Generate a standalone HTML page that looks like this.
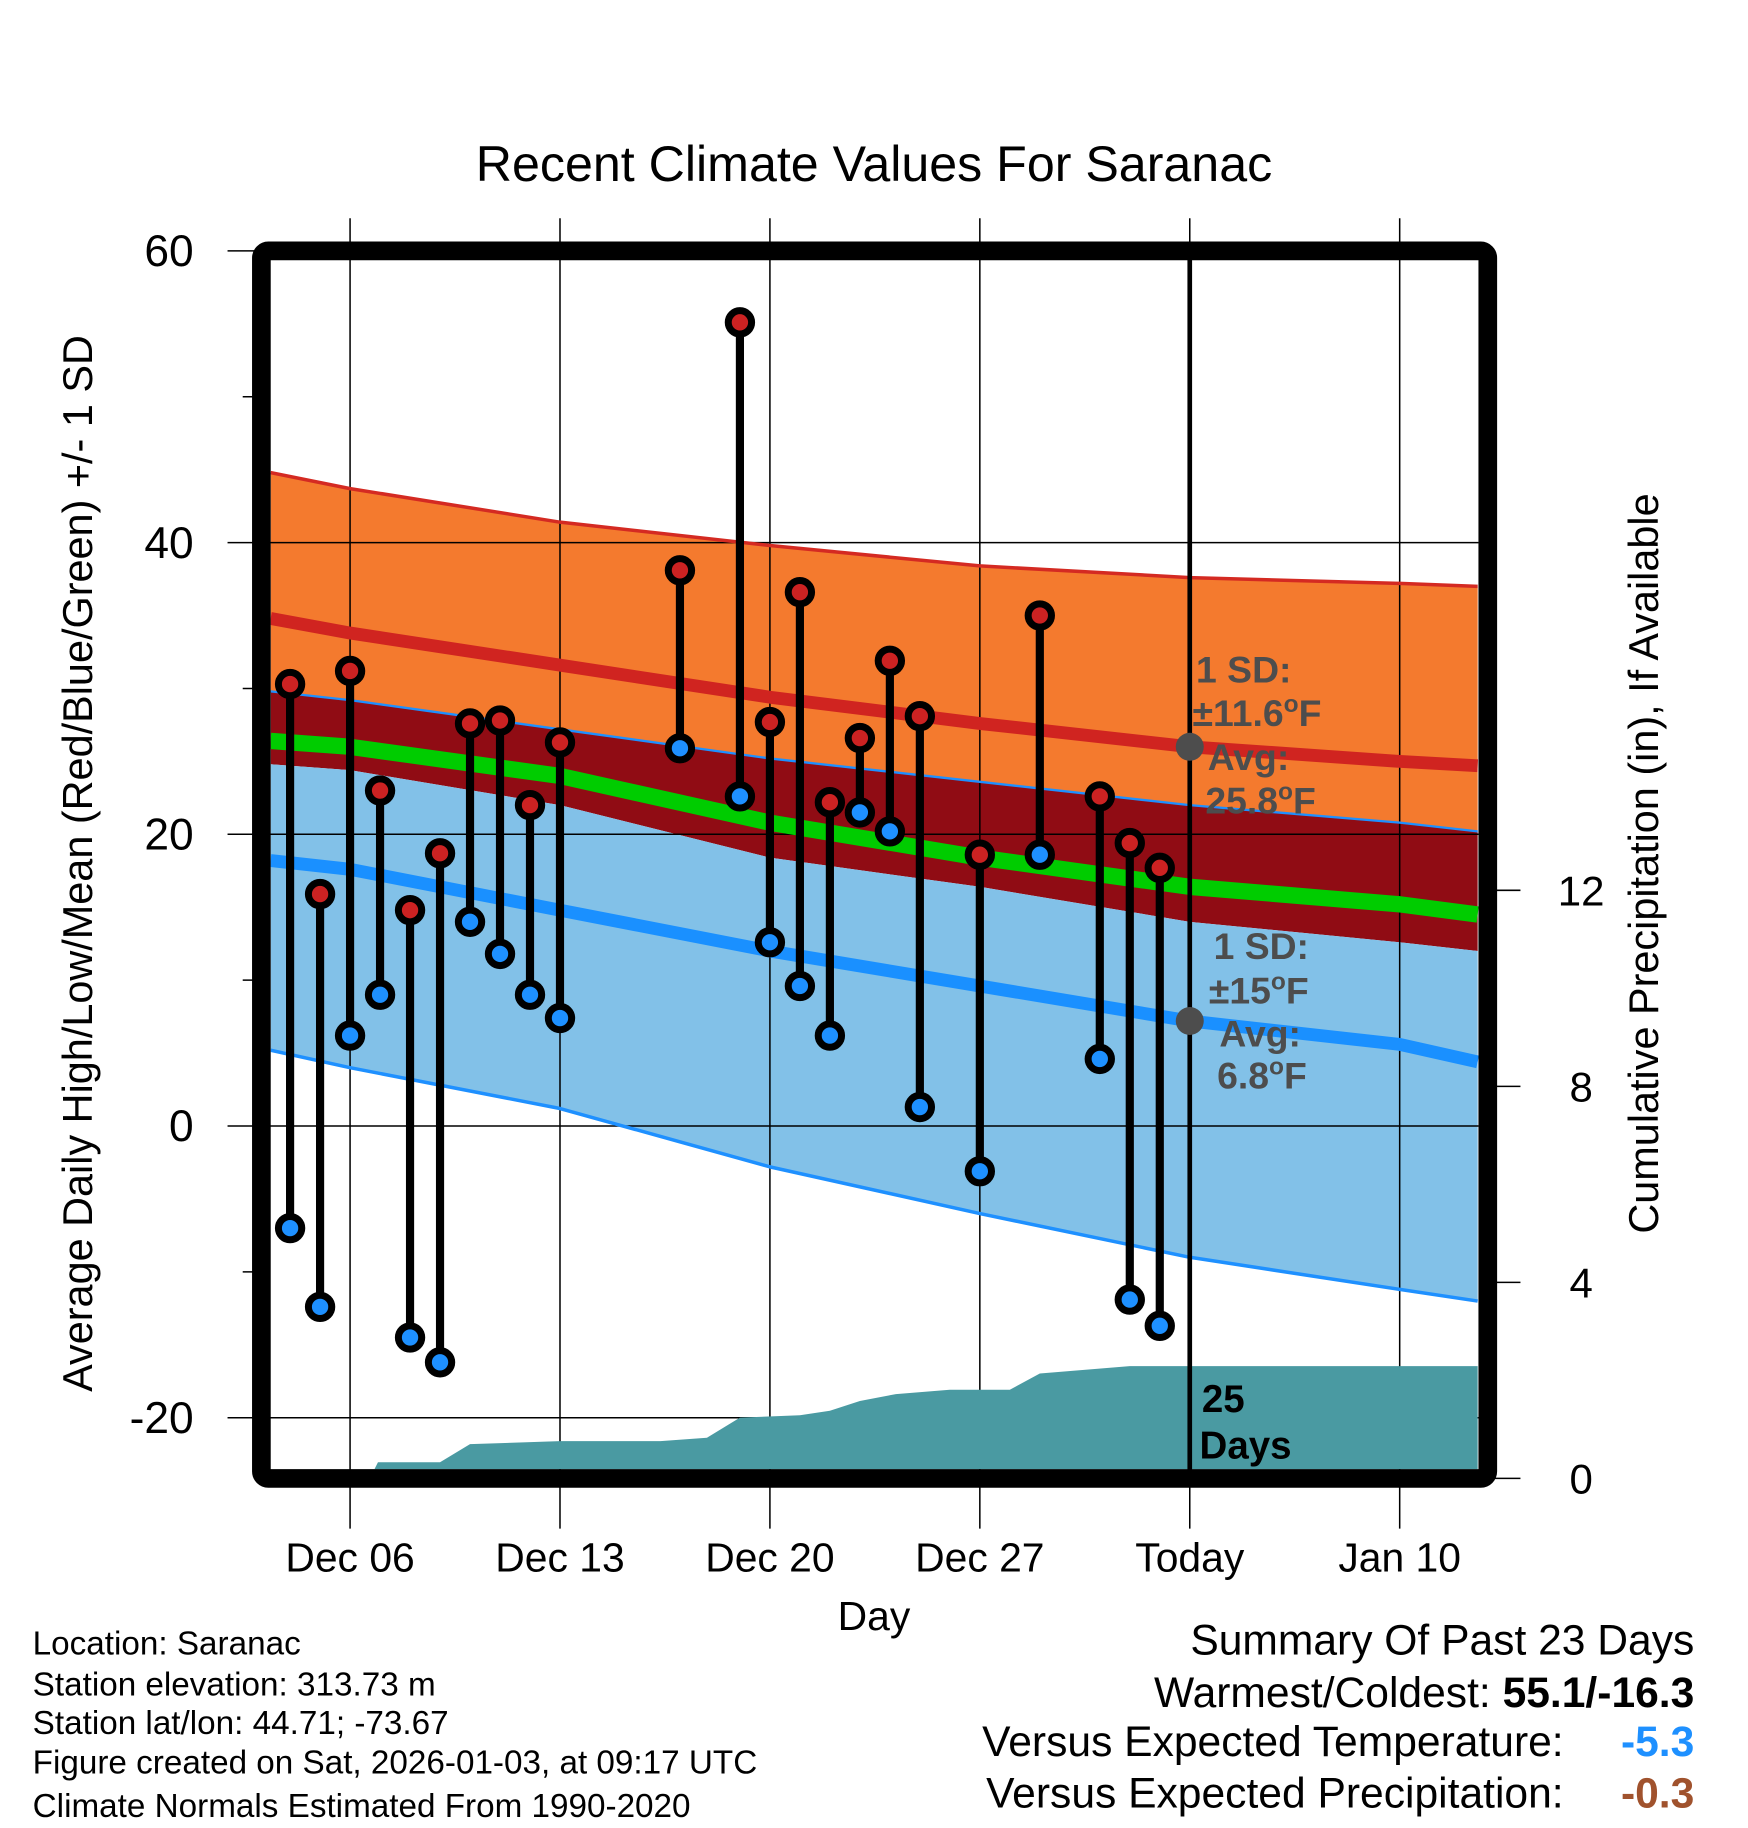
<!DOCTYPE html>
<html><head><meta charset="utf-8"><style>
html,body{margin:0;padding:0;background:#fff;}
svg{display:block;font-family:"Liberation Sans",Arial,sans-serif;}
</style></head><body>
<svg id="chart" width="1748" height="1828" viewBox="0 0 1498 1566.6" preserveAspectRatio="none" xmlns="http://www.w3.org/2000/svg">
<defs><clipPath id="plotclip"><rect x="232" y="223" width="1035" height="1036"/></clipPath></defs>
<g id="bands" clip-path="url(#plotclip)"></g>
<g id="grid"></g>
<g id="precip" clip-path="url(#plotclip)"></g>
<g id="lines" clip-path="url(#plotclip)"></g>
<g id="marks"></g>
<g id="annot"></g>
<rect x="224" y="215" width="1051" height="1052" rx="6" fill="none" stroke="#000" stroke-width="16"/>
<g id="axes"></g>
<text x="749" y="155" font-size="43" text-anchor="middle">Recent Climate Values For Saranac</text>
<text transform="translate(79,740) rotate(-90)" font-size="35.5" text-anchor="middle">Average Daily High/Low/Mean (Red/Blue/Green) +/- 1 SD</text>
<text transform="translate(1421,740) rotate(-90)" font-size="35.5" text-anchor="middle">Cumulative Precipitation (in), If Available</text>
<text x="749" y="1397" font-size="35" text-anchor="middle">Day</text>
<g font-size="28.5">
<text x="28" y="1418">Location: Saranac</text>
<text x="28" y="1453">Station elevation: 313.73 m</text>
<text x="28" y="1486">Station lat/lon: 44.71; -73.67</text>
<text x="28" y="1520">Figure created on Sat, 2026-01-03, at 09:17 UTC</text>
<text x="28" y="1557">Climate Normals Estimated From 1990-2020</text>
</g>
<g font-size="36.5" text-anchor="end">
<text x="1452" y="1418">Summary Of Past 23 Days</text>
<text x="1452" y="1463">Warmest/Coldest: <tspan font-weight="bold">55.1/-16.3</tspan></text>
<text x="1340" y="1505">Versus Expected Temperature:</text>
<text x="1452" y="1505" fill="#1e90ff" font-weight="bold">-5.3</text>
<text x="1340" y="1549">Versus Expected Precipitation:</text>
<text x="1452" y="1549" fill="#a0522d" font-weight="bold">-0.3</text>
</g>
</svg>
<script>
// ---- data ----
const normDays = [-2.65, 0, 7, 14, 21, 28, 35, 37.6];
const highPlusSD = [44.8, 43.7, 41.4, 39.8, 38.4, 37.6, 37.2, 37.0];
const highAvg = [34.8, 33.8, 31.6, 29.4, 27.6, 26.0, 25.0, 24.7];
const lowPlusSD = [29.8, 29.2, 27.2, 25.2, 23.6, 22.0, 20.8, 20.2];
const highMinusSD = [24.8, 24.4, 22.0, 18.4, 16.4, 14.0, 12.6, 12.0];
const meanAvg = [26.4, 26.0, 24.0, 20.8, 18.4, 16.4, 15.2, 14.5];
const lowAvg = [18.2, 17.6, 14.8, 12.0, 9.6, 7.2, 5.6, 4.4];
const lowMinusSD = [5.2, 4.0, 1.2, -2.8, -6.0, -9.0, -11.2, -12.0];
const obsDays = [-2, -1, 0, 1, 2, 3, 4, 5, 6, 7, 11, 13, 14, 15, 16, 17, 18, 19, 21, 23, 25, 26, 27];
const obsHigh = [30.3, 15.9, 31.2, 23.0, 14.8, 18.7, 27.6, 27.8, 22.0, 26.3, 38.1, 55.1, 27.7, 36.6, 22.2, 26.6, 31.9, 28.1, 18.6, 35.0, 22.6, 19.4, 17.7];
const obsLow = [-7.0, -12.4, 6.2, 9.0, -14.5, -16.2, 14.0, 11.8, 9.0, 7.4, 25.9, 22.6, 12.6, 9.6, 6.2, 21.5, 20.2, 1.3, -3.1, 18.6, 4.6, -11.9, -13.7];
const precipDays = [-2.65, 0.66, 0.93, 3.0, 4.0, 7.0, 10.35, 11.9, 13.0, 15.0, 16.0, 17.0, 18.2, 20.0, 22.0, 23.0, 26.0, 37.6];
const precipVals = [0, 0, 0.33, 0.33, 0.70, 0.76, 0.76, 0.83, 1.24, 1.29, 1.38, 1.58, 1.72, 1.81, 1.81, 2.14, 2.29, 2.29];
const xTickDays = [0, 7, 14, 21, 28, 35];
const xTickLabels = ["Dec 06", "Dec 13", "Dec 20", "Dec 27", "Today", "Jan 10"];
const yTicks = [60, 40, 20, 0, -20];
const yMinor = [50, 30, 10, -10];
const y2Ticks = [0, 4, 8, 12];
const todayDay = 28;

// ---- axis functions ----
const X = d => 300 + d * 25.7;
const Y = v => 965 - v * 12.5;
const Y2 = p => 1267 - p * 42;
const NS = "http://www.w3.org/2000/svg";
function mk(tag, parent, attrs) { const e = document.createElementNS(NS, tag); for (const k in attrs) e.setAttribute(k, attrs[k]); parent.appendChild(e); return e; }
const g = id => document.getElementById(id);

function linePts(arr) { return normDays.map((d, i) => X(d) + "," + Y(arr[i])).join(" "); }
function bandPts(top, bot) {
  const a = normDays.map((d, i) => X(d) + "," + Y(top[i]));
  const b = normDays.map((d, i) => X(d) + "," + Y(bot[i])).reverse();
  return a.concat(b).join(" ");
}
const bands = g("bands");
let e;
e = mk("polygon", bands, { points: bandPts(highPlusSD, lowPlusSD), fill: "#f47a2e" });


e = mk("polygon", bands, { points: bandPts(lowPlusSD, highMinusSD), fill: "#900c14" });


e = mk("polygon", bands, { points: bandPts(highMinusSD, lowMinusSD), fill: "#82c1e8" });



// grid
const grid = g("grid");
xTickDays.forEach((d, i) => {
  e = mk("line", grid, { x1: X(d), x2: X(d), y1: 187, y2: 1310, stroke: "#000", "stroke-width": 1.3 });
  
  
});
yTicks.forEach(v => {
  e = mk("line", grid, { x1: 195, x2: 1267, y1: Y(v), y2: Y(v), stroke: "#000", "stroke-width": 1.3 });
  
  
});

// precip
const pp = precipDays.map((d, i) => X(d) + "," + Y2(precipVals[i]));
pp.push(X(precipDays[precipDays.length - 1]) + ",1270");
pp.push(X(precipDays[0]) + ",1270");
e = mk("polygon", g("precip"), { points: pp.join(" "), fill: "#4a9aa2" });



// normal lines
const ln = g("lines");
[[highPlusSD, "#d42a22", 3, "high-plus-sd-line"], [lowPlusSD, "#1e90ff", 2, "low-plus-sd-line"], [lowMinusSD, "#1e90ff", 3, "low-minus-sd-line"],
 [highAvg, "#d02420", 11, "avg-high-line"], [meanAvg, "#00cc00", 14, "avg-mean-line"], [lowAvg, "#1a90ff", 11, "avg-low-line"]].forEach(s => {
  e = mk("polyline", ln, { points: linePts(s[0]), fill: "none", stroke: s[1], "stroke-width": s[2], "stroke-linejoin": "round" });
  
  
});

// today line
e = mk("line", g("annot"), { x1: X(todayDay), x2: X(todayDay), y1: 215, y2: 1262, stroke: "#000", "stroke-width": 4 });



// observations
const mg = g("marks");
obsDays.forEach((d, i) => {
  const x = X(d);
  e = mk("line", mg, { x1: x, x2: x, y1: Y(obsHigh[i]), y2: Y(obsLow[i]), stroke: "#000", "stroke-width": 7 });
  
  
  e = mk("circle", mg, { cx: x, cy: Y(obsHigh[i]), r: 10, fill: "#cc2222", stroke: "#000", "stroke-width": 6 });
  
  
  e = mk("circle", mg, { cx: x, cy: Y(obsLow[i]), r: 10, fill: "#1e90ff", stroke: "#000", "stroke-width": 6 });
  
  
});

// annotations
const an = g("annot");
const tx = X(todayDay);
e = mk("circle", an, { cx: tx, cy: Y(highAvg[5]), r: 12, fill: "#4d4d4d" });


e = mk("circle", an, { cx: tx, cy: Y(lowAvg[5]), r: 12, fill: "#4d4d4d" });


function label(x, y, html, name, size, color) {
  const t = mk("text", an, { x: x, y: y, "font-size": size || 32, "font-weight": "bold", fill: color || "#4d4d4d" });
  t.innerHTML = html;
  
  
}
const deg = '<tspan dy="-12" font-size="21">o</tspan><tspan dy="12">F</tspan>';
label(1025, 585, "1 SD:", "high-sd-label");
label(1022, 622, "±11.6" + deg, "high-sd-value");
label(1035, 660, "Avg:", "high-avg-label");
label(1033, 697, "25.8" + deg, "high-avg-value");
label(1040, 822, "1 SD:", "low-sd-label");
label(1036, 860, "±15" + deg, "low-sd-value");
label(1045, 897, "Avg:", "low-avg-label");
label(1043, 933, "6.8" + deg, "low-avg-value");
label(1030, 1210, "25", "days-count", 33, "#000");
label(1028, 1250, "Days", "days-label", 33, "#000");

// axes
const ax = g("axes");
yTicks.forEach(v => {
  e = mk("text", ax, { x: 166, y: Y(v) + 13, "font-size": 38, "text-anchor": "end" });
  e.textContent = v;
  
  
});
yMinor.forEach(v => {
  e = mk("line", ax, { x1: 208, x2: 224, y1: Y(v), y2: Y(v), stroke: "#000", "stroke-width": 1.3 });
  
  
});
y2Ticks.forEach(p => {
  e = mk("line", ax, { x1: 1275, x2: 1303, y1: Y2(p), y2: Y2(p), stroke: "#000", "stroke-width": 1.3 });
  
  
  e = mk("text", ax, { x: 1355, y: Y2(p) + 13, "font-size": 36, "text-anchor": "middle" });
  e.textContent = p;
  
  
});
xTickDays.forEach((d, i) => {
  e = mk("text", ax, { x: X(d), y: 1347, "font-size": 35, "text-anchor": "middle" });
  e.textContent = xTickLabels[i];
  
  
});
</script>
</body></html>
